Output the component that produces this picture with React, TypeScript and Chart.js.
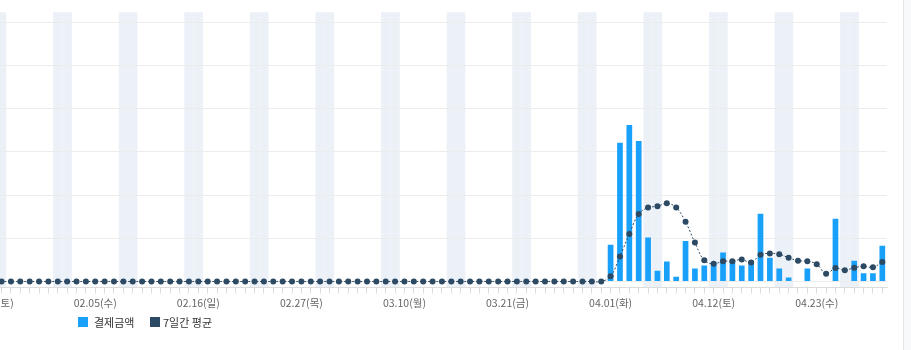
import React, { useEffect, useRef } from "react";
import { Chart, registerables } from "chart.js";

Chart.register(...registerables);

// Daily categories: 2025-01-25 (토) … 2025-04-30 (수)
const categories = [
  "01.25(토)", "01.26(일)", "01.27(월)", "01.28(화)", "01.29(수)", "01.30(목)", "01.31(금)",
  "02.01(토)", "02.02(일)", "02.03(월)", "02.04(화)", "02.05(수)", "02.06(목)", "02.07(금)",
  "02.08(토)", "02.09(일)", "02.10(월)", "02.11(화)", "02.12(수)", "02.13(목)", "02.14(금)",
  "02.15(토)", "02.16(일)", "02.17(월)", "02.18(화)", "02.19(수)", "02.20(목)", "02.21(금)",
  "02.22(토)", "02.23(일)", "02.24(월)", "02.25(화)", "02.26(수)", "02.27(목)", "02.28(금)",
  "03.01(토)", "03.02(일)", "03.03(월)", "03.04(화)", "03.05(수)", "03.06(목)", "03.07(금)",
  "03.08(토)", "03.09(일)", "03.10(월)", "03.11(화)", "03.12(수)", "03.13(목)", "03.14(금)",
  "03.15(토)", "03.16(일)", "03.17(월)", "03.18(화)", "03.19(수)", "03.20(목)", "03.21(금)",
  "03.22(토)", "03.23(일)", "03.24(월)", "03.25(화)", "03.26(수)", "03.27(목)", "03.28(금)",
  "03.29(토)", "03.30(일)", "03.31(월)",
  "04.01(화)", "04.02(수)", "04.03(목)", "04.04(금)", "04.05(토)", "04.06(일)", "04.07(월)",
  "04.08(화)", "04.09(수)", "04.10(목)", "04.11(금)", "04.12(토)", "04.13(일)", "04.14(월)",
  "04.15(화)", "04.16(수)", "04.17(목)", "04.18(금)", "04.19(토)", "04.20(일)", "04.21(월)",
  "04.22(화)", "04.23(수)", "04.24(목)", "04.25(금)", "04.26(토)", "04.27(일)", "04.28(월)",
  "04.29(화)", "04.30(수)",
];

// Tick labels that are shown under the axis
const shownTickLabels = [
  "01.25(토)", "02.05(수)", "02.16(일)", "02.27(목)", "03.10(월)",
  "03.21(금)", "04.01(화)", "04.12(토)", "04.23(수)",
];

// 결제금액 (daily payment amount)
const paymentAmount = [
  0, 0, 0, 0, 0, 0, 0,
  0, 0, 0, 0, 0, 0, 0,
  0, 0, 0, 0, 0, 0, 0,
  0, 0, 0, 0, 0, 0, 0,
  0, 0, 0, 0, 0, 0, 0,
  0, 0, 0, 0, 0, 0, 0,
  0, 0, 0, 0, 0, 0, 0,
  0, 0, 0, 0, 0, 0, 0,
  0, 0, 0, 0, 0, 0, 0,
  0, 0, 0,
  85, 321, 362, 325, 102, 25, 46,
  11, 94, 30, 37, 44, 67, 46,
  37, 47, 157, 55, 30, 9, 0,
  30, 0, 0, 145, 0, 48, 19,
  19, 83,
];

// 7일간 평균 (7-day average)
const weeklyAverage = [
  0, 0, 0, 0, 0, 0, 0,
  0, 0, 0, 0, 0, 0, 0,
  0, 0, 0, 0, 0, 0, 0,
  0, 0, 0, 0, 0, 0, 0,
  0, 0, 0, 0, 0, 0, 0,
  0, 0, 0, 0, 0, 0, 0,
  0, 0, 0, 0, 0, 0, 0,
  0, 0, 0, 0, 0, 0, 0,
  0, 0, 0, 0, 0, 0, 0,
  0, 0, 0,
  12, 58, 110, 156, 171, 174, 181,
  171, 138, 90, 49, 41, 47, 47,
  51, 44, 62, 65, 63, 55, 48,
  47, 40, 18, 31, 26, 32, 35,
  33, 45,
];

const BAR_COLOR = "#18a0fa";
const LINE_COLOR = "#2c4a63";
const WEEKEND_COLOR = "#ecf1f8";
const GRID_COLOR = "#ececec";
const AXIS_COLOR = "#dcdcdc";
const FONT_FAMILY = "'Noto Sans CJK KR', 'Noto Sans', sans-serif";

const weekendBands = {
  id: "weekendBands",
  beforeDraw(chart: any) {
    const { ctx, chartArea, scales } = chart;
    const x = scales.x;
    const n = categories.length;
    const w = chartArea.width / n;
    ctx.save();
    ctx.fillStyle = WEEKEND_COLOR;
    categories.forEach((c, i) => {
      if (c.includes("(토)") || c.includes("(일)")) {
        const cx = x.getPixelForValue(i);
        ctx.fillRect(cx - w / 2, chartArea.top, w, chartArea.bottom - chartArea.top);
      }
    });
    ctx.restore();
  },
};

export default function App() {
  const ref = useRef<HTMLCanvasElement | null>(null);

  useEffect(() => {
    if (!ref.current) return;
    const chart = new Chart(ref.current, {
      type: "bar",
      data: {
        labels: categories,
        datasets: [
          {
            type: "line",
            label: "7일간 평균",
            data: weeklyAverage,
            order: 0,
            borderColor: LINE_COLOR,
            backgroundColor: LINE_COLOR,
            borderWidth: 1,
            borderDash: [2, 2],
            tension: 0.4,
            pointRadius: 3,
            pointBorderWidth: 0,
            pointBackgroundColor: LINE_COLOR,
            fill: false,
          } as any,
          {
            type: "bar",
            label: "결제금액",
            data: paymentAmount,
            order: 1,
            backgroundColor: BAR_COLOR,
            categoryPercentage: 0.8,
            barPercentage: 0.76,
          },
        ],
      },
      options: {
        responsive: false,
        animation: false,
        maintainAspectRatio: false,
        layout: {
          autoPadding: false,
          padding: { left: 7.5, right: 13, top: 12.3, bottom: 37.9 },
        },
        plugins: {
          legend: { display: false },
          tooltip: { enabled: false },
        },
        scales: {
          x: {
            offset: true,
            afterFit: (scale: any) => {
              scale.paddingLeft = 0;
              scale.paddingRight = 0;
            },
            grid: {
              display: true,
              drawOnChartArea: false,
              drawTicks: true,
              tickLength: 6,
              color: AXIS_COLOR,
              offset: false,
            },
            border: { display: true, color: AXIS_COLOR },
            ticks: {
              autoSkip: false,
              maxRotation: 0,
              minRotation: 0,
              padding: 3,
              color: "#666",
              font: { family: FONT_FAMILY, size: 10.5 },
              callback: (_v: any, i: number) =>
                shownTickLabels.includes(categories[i]) ? categories[i] : "",
            },
          },
          y: {
            min: -13.9,
            max: 623,
            grid: { color: GRID_COLOR, drawTicks: false },
            border: { display: false },
            ticks: { display: false, stepSize: 100, includeBounds: false },
          },
        },
      } as any,
      plugins: [weekendBands],
    });
    return () => chart.destroy();
  }, []);

  const legendText: React.CSSProperties = {
    position: "absolute",
    top: 314,
    fontFamily: FONT_FAMILY,
    fontSize: 11,
    lineHeight: "16px",
    color: "#333",
    whiteSpace: "nowrap",
  };
  const sq: React.CSSProperties = { position: "absolute", top: 317, width: 10, height: 10 };

  return (
    <div
      style={{
        position: "fixed",
        left: 0,
        top: 0,
        width: 911,
        height: 350,
        overflow: "hidden",
        background: "#fff",
      }}
    >
      <canvas
        ref={ref}
        width={920}
        height={350}
        style={{ position: "absolute", left: -20, top: 0, width: 920, height: 350 }}
      />
      <div style={{ ...sq, left: 78, background: BAR_COLOR }} />
      <div style={{ ...legendText, left: 94 }}>결제금액</div>
      <div style={{ ...sq, left: 150, background: LINE_COLOR }} />
      <div style={{ ...legendText, left: 163 }}>7일간 평균</div>
      <div
        style={{
          position: "absolute",
          left: 903,
          top: 0,
          width: 8,
          height: 350,
          background: "#f8f9fb",
          borderLeft: "1px solid #e6e7ea",
        }}
      />
    </div>
  );
}
